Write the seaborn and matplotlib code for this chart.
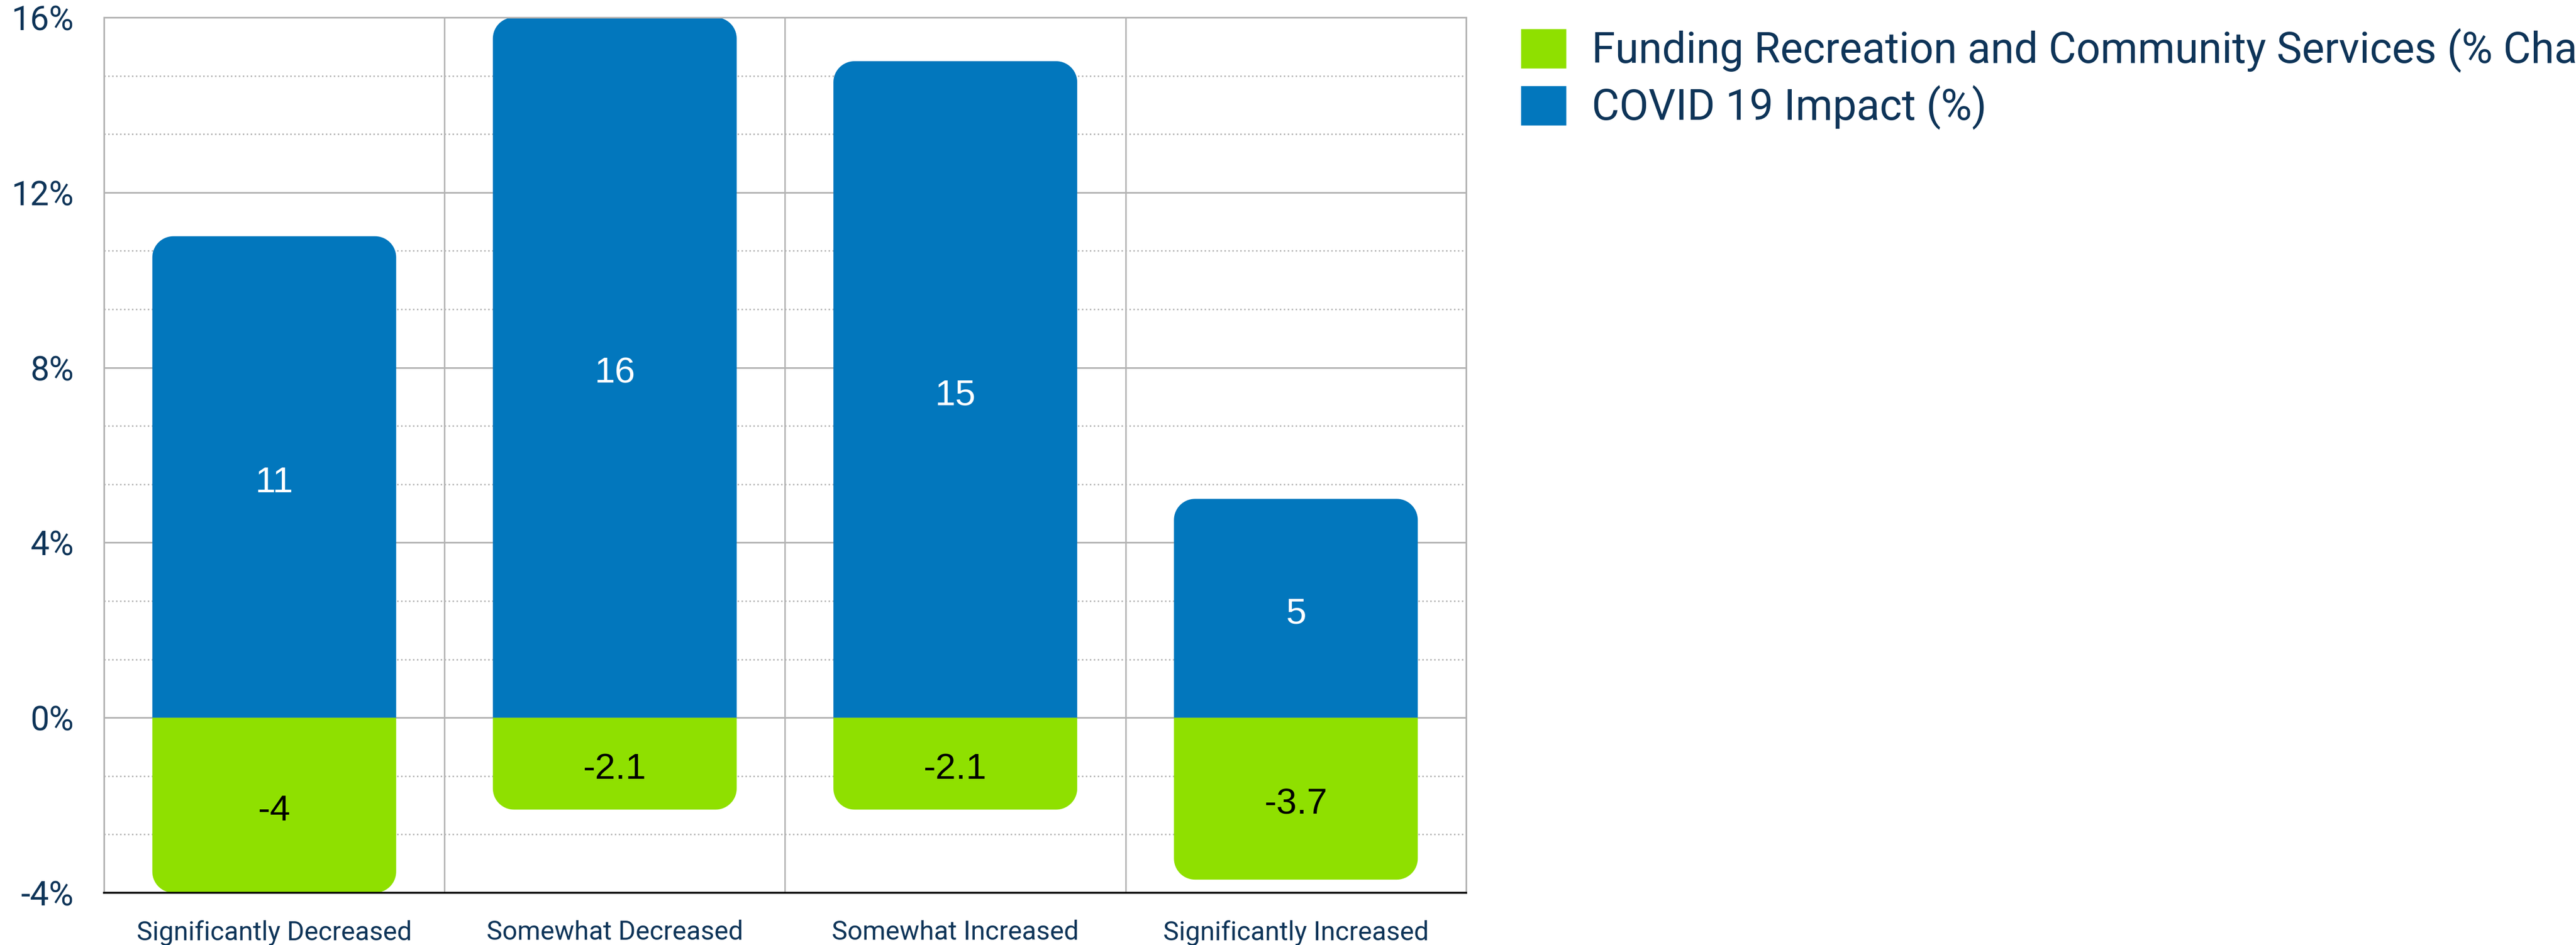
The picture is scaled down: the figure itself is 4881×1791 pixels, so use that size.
import numpy as np
import pandas as pd
import seaborn as sns
import matplotlib.pyplot as plt
from matplotlib.path import Path
from matplotlib.patches import PathPatch
from matplotlib.ticker import MultipleLocator, FixedLocator, FuncFormatter

categories = ["Significantly Decreased", "Somewhat Decreased", "Somewhat Increased", "Significantly Increased"]
funding_label = "Funding Recreation and Community Services (% Change)"
covid_label = "COVID 19 Impact (%)"
funding = [-4, -2.1, -2.1, -3.7]
covid = [11, 16, 15, 5]

green = "#8fe000"
blue = "#0277bd"
navy = "#0e3458"
grid_gray = "#b3b3b3"

df = pd.DataFrame({
    "category": categories * 2,
    "series": [funding_label] * len(categories) + [covid_label] * len(categories),
    "value": funding + covid,
})

sns.set_style("white")
plt.rcParams["font.family"] = ["Roboto", "DejaVu Sans"]

fig = plt.figure(figsize=(48.81, 17.91), dpi=100)
ax = fig.add_axes([197 / 4881, 1 - 1692 / 1791, (2778 - 197) / 4881, (1692 - 33) / 1791])

sns.barplot(data=df, x="category", y="value", hue="series",
            hue_order=[funding_label, covid_label],
            palette=[green, blue], dodge=False, width=0.716,
            saturation=1, errorbar=None, ax=ax)

ax.set_xlim(-0.5, len(categories) - 0.5)
ax.set_ylim(-4, 16)
ax.set_xlabel("")
ax.set_ylabel("")

# gridlines
ax.set_axisbelow(True)
ax.yaxis.set_major_locator(MultipleLocator(4))
ax.yaxis.set_minor_locator(MultipleLocator(4 / 3))
ax.xaxis.set_minor_locator(FixedLocator(np.arange(0.5, len(categories) - 0.5, 1)))
ax.grid(which="major", axis="y", color=grid_gray, lw=2.2, ls="-")
ax.grid(which="minor", axis="y", color=grid_gray, lw=2.0, ls=(0, (1, 1.7)))
ax.grid(which="minor", axis="x", color=grid_gray, lw=2.0, ls="-")
ax.grid(which="major", axis="x", visible=False)

for side in ["left", "right", "top"]:
    ax.spines[side].set_color(grid_gray)
    ax.spines[side].set_linewidth(2.2)
ax.spines["bottom"].set_color("black")
ax.spines["bottom"].set_linewidth(2.6)

ax.yaxis.set_major_formatter(FuncFormatter(lambda v, p: f"{v:g}%"))
ax.tick_params(axis="y", which="both", length=0, pad=41, labelsize=46, labelcolor=navy)
ax.tick_params(axis="x", which="both", length=0, pad=37, labelsize=36, labelcolor=navy)

# values in the middle of each segment
labels_green = ax.bar_label(ax.containers[0], labels=[f"{v:g}" for v in funding], label_type="center",
                            color="black", fontsize=50, family="Liberation Sans")
labels_blue = ax.bar_label(ax.containers[1], labels=[f"{v:g}" for v in covid], label_type="center",
                           color="white", fontsize=50, family="Liberation Sans")
for ann in labels_green + labels_blue:
    ann.xyann = (0, -8)

# rounded ends on the bars (away from the zero line)
r_px = 40
(px0, py0), (px1, py1) = ax.transData.transform([(0, 0), (1, 1)])
rx = r_px / abs(px1 - px0)
ry = r_px / abs(py1 - py0)
t = np.linspace(0, np.pi / 2, 20)
for cont in ax.containers:
    for bar in cont:
        x, w = bar.get_x(), bar.get_width()
        base = bar.get_y()
        tip = base + bar.get_height()
        s = 1 if tip > base else -1
        pts = [(x, base)]
        cx, cy = x + rx, tip - s * ry
        for a in t:
            pts.append((cx - rx * np.cos(a), cy + s * ry * np.sin(a)))
        cx = x + w - rx
        for a in t:
            pts.append((cx + rx * np.sin(a), cy + s * ry * np.cos(a)))
        pts.append((x + w, base))
        pts.append((x, base))
        patch = PathPatch(Path(pts), facecolor=bar.get_facecolor(), edgecolor="none",
                          zorder=bar.get_zorder())
        ax.add_patch(patch)
        bar.set_visible(False)

sns.move_legend(ax, "upper left", bbox_to_anchor=(2881 / 4881, 1 - 54 / 1791),
                bbox_transform=fig.transFigure, frameon=False, title=None,
                fontsize=58, labelcolor=navy, handlelength=1.075, handleheight=1.075,
                handletextpad=0.6, labelspacing=0.29, borderpad=0, borderaxespad=0)

fig.savefig("out.png", dpi=100)
